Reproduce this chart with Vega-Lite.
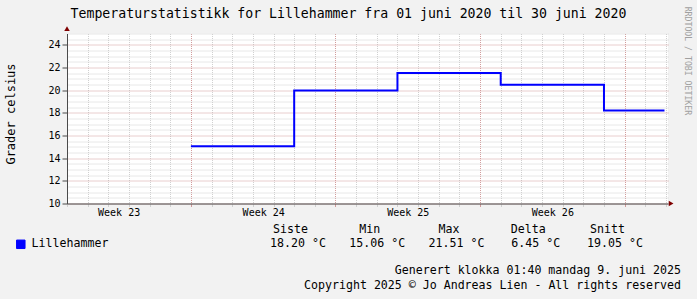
{
  "$schema": "https://vega.github.io/schema/vega-lite/v6.json",
  "background": "#f2f2f2",
  "padding": {"left": 4, "top": 6.5, "right": 12, "bottom": 12},
  "bounds": "flush",
  "spacing": 19,
  "config": {
    "font": "DejaVu Sans Mono",
    "view": {"stroke": null},
    "title": {"font": "DejaVu Sans Mono", "fontWeight": "normal", "color": "black"},
    "axis": {"labelFont": "DejaVu Sans Mono", "titleFont": "DejaVu Sans Mono", "titleFontWeight": "normal", "labelColor": "black", "titleColor": "black"},
    "legend": {"labelFont": "DejaVu Sans Mono"}
  },
  "title": {"text": "RRDTOOL / TOBI OETIKER", "orient": "right", "anchor": "start", "fontSize": 8.2, "color": "#a0a0a0", "offset": 2},
  "datasets": {
    "temp": [
      {"day": 6, "temp": 15.06, "series": "Lillehammer"},
      {"day": 11, "temp": 19.97, "series": "Lillehammer"},
      {"day": 16, "temp": 21.51, "series": "Lillehammer"},
      {"day": 21, "temp": 20.47, "series": "Lillehammer"},
      {"day": 26, "temp": 18.2, "series": "Lillehammer"},
      {"day": 28.93, "temp": 18.2, "series": "Lillehammer"}
    ],
    "stats": [
      {"stat": "Siste", "value": "18.20 °C"},
      {"stat": "Min", "value": "15.06 °C"},
      {"stat": "Max", "value": "21.51 °C"},
      {"stat": "Delta", "value": "6.45 °C"},
      {"stat": "Snitt", "value": "19.05 °C"}
    ]
  },
  "vconcat": [
    {
      "width": 601,
      "height": 170,
      "view": {"fill": "white", "stroke": null},
      "title": {"text": "Temperaturstatistikk for Lillehammer fra 01 juni 2020 til 30 juni 2020", "fontSize": 13.2, "anchor": "middle", "frame": "group", "dx": -19, "offset": 5.5},
      "resolve": {"axis": {"x": "independent", "y": "independent"}},
      "layer": [
        {
          "data": {"name": "temp"},
          "mark": {"type": "line", "interpolate": "step-after", "strokeWidth": 2},
          "encoding": {
            "x": {
              "field": "day", "type": "quantitative",
              "scale": {"domain": [0, 29.1], "nice": false, "zero": false},
              "axis": {
                "title": null,
                "values": [0,1,2,3,4,5,6,7,8,9,10,11,12,13,14,15,16,17,18,19,20,21,22,23,24,25,26,27,28,29,2.5,9.5,16.5,23.5],
                "labelExpr": "datum.value % 1 == 0.5 ? 'Week ' + (23 + floor(datum.value / 7)) : ''",
                "labelFontSize": 10, "labelPadding": 1, "labelOverlap": false, "labelFlush": false, "labelBound": false,
                "tickSize": 3,
                "tickColor": {"condition": {"test": "datum.value % 7 == 6", "value": "#d09a9a"}, "value": "#cfcfcf"},
                "tickOpacity": {"condition": {"test": "datum.value % 1 != 0", "value": 0}, "value": 1},
                "grid": true,
                "gridColor": {"condition": {"test": "datum.value % 7 == 6", "value": "#d39c9c"}, "value": "#d0d0d0"},
                "gridOpacity": {"condition": {"test": "datum.value % 1 != 0", "value": 0}, "value": 1},
                "gridDash": [1, 1],
                "domainColor": "#4a4a4a"
              }
            },
            "y": {
              "field": "temp", "type": "quantitative",
              "scale": {"domain": [10, 25], "nice": false, "zero": false},
              "axis": {
                "title": "Grader celsius", "titleFontSize": 12, "titleX": -57, "titleY": 80, "titleAlign": "center", "titleBaseline": "middle",
                "values": [10,10.5,11,11.5,12,12.5,13,13.5,14,14.5,15,15.5,16,16.5,17,17.5,18,18.5,19,19.5,20,20.5,21,21.5,22,22.5,23,23.5,24,24.5,25],
                "labelExpr": "datum.value % 2 == 0 && datum.value < 25 ? format(datum.value, 'd') : ''",
                "labelFontSize": 10, "labelPadding": 2, "labelOverlap": false, "labelFlush": false, "labelBound": false,
                "tickSize": 5, "tickColor": "#4a4a4a",
                "tickOpacity": {"condition": {"test": "datum.value % 2 == 0", "value": 1}, "value": 0},
                "grid": true,
                "gridColor": {"condition": {"test": "datum.value % 2 == 0", "value": "#d39c9c"}, "value": "#d0d0d0"},
                "gridDash": [1, 1],
                "domainColor": "#4a4a4a"
              }
            },
            "color": {
              "field": "series", "type": "nominal",
              "scale": {"domain": ["Lillehammer"], "range": ["#0000ff"]},
              "legend": {
                "orient": "none", "legendX": -52, "legendY": 205, "title": null,
                "symbolType": "square", "symbolSize": 72, "labelFontSize": 11.6, "labelColor": "black", "labelOffset": 5, "padding": 0,
                "encode": {"symbols": {"update": {"fill": {"value": "#0000ff"}, "stroke": {"value": "black"}, "strokeWidth": {"value": 1}, "opacity": {"value": 1}}}}
              }
            }
          }
        },
        {
          "data": {"values": [{}]},
          "mark": {"type": "point", "shape": "triangle-right", "filled": true, "color": "#7f0000", "opacity": 1, "size": 30},
          "encoding": {"x": {"datum": 29.25, "type": "quantitative", "axis": null}, "y": {"datum": 10, "type": "quantitative", "axis": null}}
        },
        {
          "data": {"values": [{}]},
          "mark": {"type": "point", "shape": "triangle-up", "filled": true, "color": "#7f0000", "opacity": 1, "size": 30},
          "encoding": {"x": {"datum": 0, "type": "quantitative", "axis": null}, "y": {"datum": 25.42, "type": "quantitative", "axis": null}}
        }
      ]
    },
    {
      "width": 475.5,
      "height": 28,
      "view": {"fill": null, "stroke": null},
      "title": {"text": ["Generert klokka 01:40 mandag 9. juni 2025", "Copyright 2025 © Jo Andreas Lien - All rights reserved"], "orient": "bottom", "anchor": "end", "frame": "group", "fontSize": 11.6, "lineHeight": 15, "offset": 14, "dx": 138.5},
      "data": {"name": "stats"},
      "layer": [
        {
          "mark": {"type": "text", "fontSize": 11.6, "baseline": "middle", "align": "center", "dx": 144.25, "color": "black"},
          "encoding": {
            "x": {"field": "stat", "type": "nominal", "sort": null, "scale": {"type": "point", "domain": ["Siste", "Min", "Max", "Delta", "Snitt"], "padding": 1}, "axis": null},
            "y": {"datum": "header", "type": "nominal", "scale": {"type": "point", "domain": ["header", "value"], "padding": 0.5}, "axis": null},
            "text": {"field": "stat"}
          }
        },
        {
          "mark": {"type": "text", "fontSize": 11.6, "baseline": "middle", "align": "center", "dx": 151.75, "color": "black"},
          "encoding": {
            "x": {"field": "stat", "type": "nominal", "sort": null, "axis": null},
            "y": {"datum": "value", "type": "nominal", "axis": null},
            "text": {"field": "value"}
          }
        }
      ]
    }
  ]
}
